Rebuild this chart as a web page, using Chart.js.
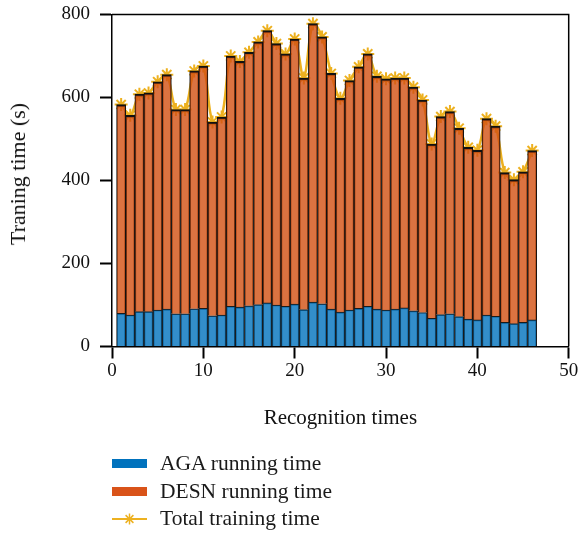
<!DOCTYPE html>
<html>
<head>
<meta charset="utf-8">
<script src="https://cdn.jsdelivr.net/npm/chart.js@4.4.1/dist/chart.umd.min.js"></script>
<style>
  html, body { margin: 0; padding: 0; background: #fff; }
  #wrap { position: relative; width: 578px; height: 533px; overflow: hidden; }
  #chart { position: absolute; left: 0; top: 0; }
  #ytitle {
    position: absolute; left: 18px; top: 173.5px; width: 0; height: 0;
    font-family: "Liberation Serif", serif; font-size: 22px; color: #111;
  }
  #ytitle span {
    position: absolute; left: 0; top: 0; white-space: nowrap; line-height: 1;
    transform: translate(-50%, -50%) rotate(-90deg);
  }
  #legend {
    position: absolute; left: 112px; top: 450px;
    font-family: "Liberation Serif", serif; font-size: 21.5px; color: #1a1a1a;
  }
  .row { display: flex; align-items: center; height: 27.5px; white-space: nowrap; }
  .sw { width: 35px; height: 9px; margin-right: 13px; flex: none; }
  .row svg { margin-right: 13px; flex: none; }
</style>
</head>
<body>
<div id="wrap">
  <canvas id="chart" width="578" height="533"></canvas>
  <div id="ytitle"><span></span></div>
  <div id="legend"></div>
</div>
<script>
// Recognition index of each run
const recognitionTimes = [1, 2, 3, 4, 5, 6, 7, 8, 9, 10,
  11, 12, 13, 14, 15, 16, 17, 18, 19, 20,
  21, 22, 23, 24, 25, 26, 27, 28, 29, 30,
  31, 32, 33, 34, 35, 36, 37, 38, 39, 40,
  41, 42, 43, 44, 45, 46];

// AGA running time per run (s)
const agaTime = [80, 76, 84, 84, 88, 90, 79, 79, 91, 92,
  74, 76, 97, 95, 98, 101, 105, 100, 97, 102,
  89, 107, 103, 90, 83, 88, 92, 97, 90, 88,
  90, 93, 86, 82, 68, 77, 79, 72, 66, 64,
  76, 73, 58, 55, 58, 64];

// DESN running time per run (s)
const desnTime = [503, 481, 524, 527, 550, 565, 492, 492, 573, 584,
  467, 477, 603, 592, 611, 633, 656, 630, 608, 639,
  558, 671, 643, 568, 515, 553, 582, 608, 561, 557,
  557, 554, 539, 512, 420, 477, 487, 454, 414, 409,
  473, 458, 361, 347, 363, 408];

// Total training time per run (s)
const totalTime = [583, 557, 608, 611, 638, 655, 571, 571, 664, 676,
  541, 553, 700, 687, 709, 734, 761, 730, 705, 741,
  647, 778, 746, 658, 598, 641, 674, 705, 651, 645,
  647, 647, 625, 594, 488, 554, 566, 526, 480, 473,
  549, 531, 419, 402, 421, 472];

const xTicks = [0, 10, 20, 30, 40, 50];
const yTicks = [0, 200, 400, 600, 800];

const seriesNames = ['AGA running time', 'DESN running time', 'Total training time'];
const xTitle = 'Recognition times';
const yTitle = 'Traning time (s)';

const BLUE = '#0072BD', ORANGE = '#D95319', GOLD = '#EDB120';
const SERIF = '"Liberation Serif", "Times New Roman", serif';

const pts = arr => recognitionTimes.map((x, i) => ({ x: x, y: arr[i] }));

// Closing box on the top and right side of the plot area
const frame = {
  id: 'frame',
  afterDraw(chart) {
    const { ctx, chartArea: a } = chart;
    ctx.save();
    ctx.strokeStyle = '#000';
    ctx.lineWidth = 1.5;
    ctx.beginPath();
    ctx.moveTo(a.left, a.top);
    ctx.lineTo(a.right, a.top);
    ctx.lineTo(a.right, a.bottom);
    ctx.stroke();
    ctx.restore();
  }
};

new Chart(document.getElementById('chart'), {
  type: 'bar',
  data: {
    datasets: [
      {
        label: seriesNames[0],
        data: pts(agaTime),
        backgroundColor: 'rgba(0,114,189,0.8)',
        borderColor: '#1a1a1a',
        borderWidth: { top: 1, left: 1, right: 1, bottom: 0 },
        barPercentage: 1, categoryPercentage: 1,
        stack: 'run', order: 1
      },
      {
        label: seriesNames[1],
        data: pts(desnTime),
        backgroundColor: 'rgba(210,80,18,0.8)',
        borderColor: '#111',
        borderWidth: { top: 2, left: 1, right: 1, bottom: 0 },
        barPercentage: 1, categoryPercentage: 1,
        stack: 'run', order: 1
      },
      {
        type: 'line',
        label: seriesNames[2],
        data: pts(totalTime),
        borderColor: GOLD,
        borderWidth: 2.5,
        tension: 0.35,
        pointStyle: 'star',
        pointRadius: 6.5,
        pointBorderWidth: 2,
        pointBorderColor: GOLD,
        pointBackgroundColor: GOLD,
        stack: 'total',
        order: 2,
        clip: false
      }
    ]
  },
  options: {
    responsive: false,
    animation: false,
    devicePixelRatio: 1,
    layout: { padding: { left: 0, top: 14.5, right: 9.3, bottom: 96.5 } },
    plugins: { legend: { display: false }, tooltip: { enabled: false } },
    scales: {
      x: {
        type: 'linear',
        stacked: true,
        offset: false,
        min: 0, max: 50,
        afterBuildTicks: s => { s.ticks = xTicks.map(v => ({ value: v })); },
        afterFit: s => { s.height = 90; s.paddingLeft = 0; s.paddingRight = 0; },
        border: { display: true, color: '#000', width: 1.5 },
        grid: { offset: false, drawOnChartArea: false, drawTicks: true, tickLength: 12, tickWidth: 2, tickColor: '#000' },
        ticks: { padding: 1.5, color: '#111', font: { family: SERIF, size: 19 }, maxRotation: 0 },
        title: { display: true, text: xTitle, color: '#111', font: { family: SERIF, size: 21 }, padding: { top: 0, bottom: 5 } }
      },
      y: {
        stacked: true,
        min: 0, max: 800,
        afterBuildTicks: s => { s.ticks = yTicks.map(v => ({ value: v })); },
        afterFit: s => { s.width = 112; s.paddingTop = 0; s.paddingBottom = 0; },
        border: { display: true, color: '#000', width: 1.5 },
        grid: { drawOnChartArea: false, drawTicks: true, tickLength: 12, tickWidth: 2, tickColor: '#000' },
        ticks: { padding: 10, color: '#111', font: { family: SERIF, size: 19 } },
        title: { display: false }
      }
    }
  },
  plugins: [frame]
});

// Vertical axis title
document.querySelector('#ytitle span').textContent = yTitle;

// Legend below the plot
const legend = document.getElementById('legend');
const swatches = [
  '<div class="sw" style="background:' + BLUE + '"></div>',
  '<div class="sw" style="background:' + ORANGE + '"></div>',
  '<svg width="35" height="14" viewBox="0 0 35 14">' +
    '<line x1="0" y1="7" x2="35" y2="7" stroke="' + GOLD + '" stroke-width="2"/>' +
    '<g stroke="' + GOLD + '" stroke-width="1.5">' +
    '<line x1="17.5" y1="1.5" x2="17.5" y2="12.5"/>' +
    '<line x1="12" y1="7" x2="23" y2="7"/>' +
    '<line x1="13.6" y1="3.1" x2="21.4" y2="10.9"/>' +
    '<line x1="13.6" y1="10.9" x2="21.4" y2="3.1"/></g></svg>'
];
seriesNames.forEach((name, i) => {
  const row = document.createElement('div');
  row.className = 'row';
  row.innerHTML = swatches[i] + '<span>' + name + '</span>';
  legend.appendChild(row);
});
</script>
</body>
</html>
